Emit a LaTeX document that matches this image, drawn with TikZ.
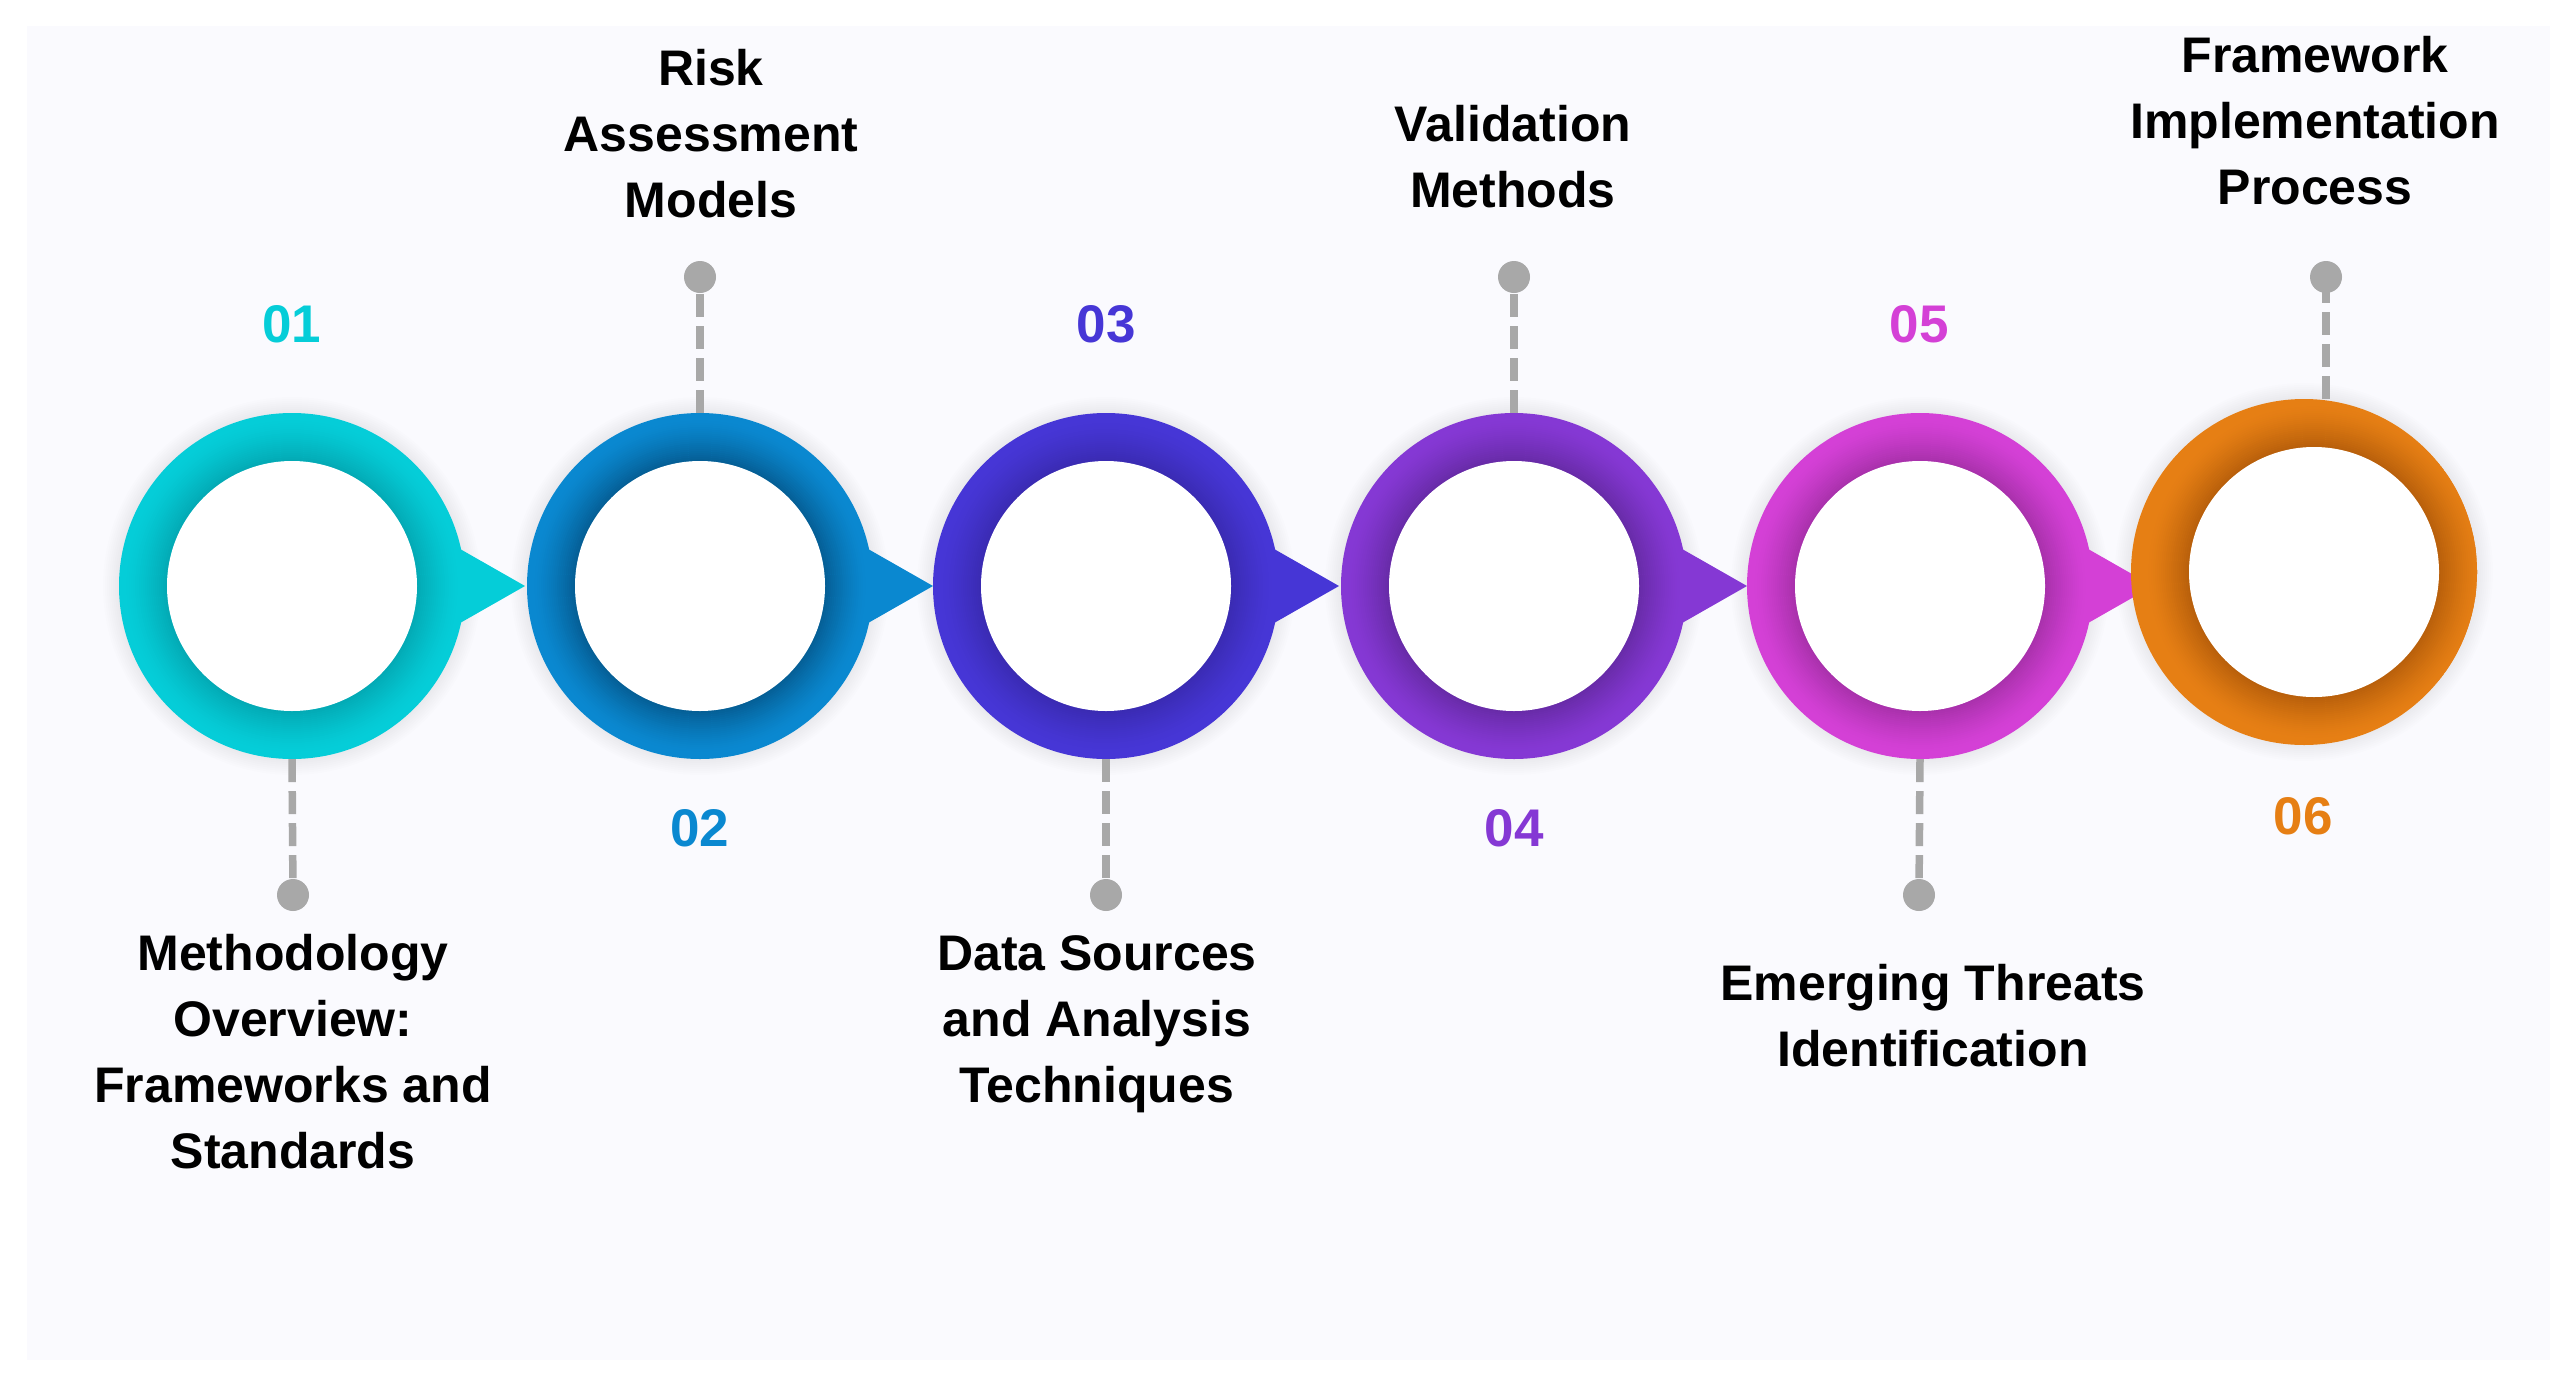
\documentclass[tikz,border=0pt]{standalone}
\usepackage{fontspec}
\setmainfont{Liberation Sans}
\definecolor{panel}{HTML}{FAFAFE}
\definecolor{stub}{HTML}{A8A8A8}
\definecolor{b1}{HTML}{05CDD8}\definecolor{rd1}{HTML}{03AAB5}
\definecolor{b2}{HTML}{0A88D0}\definecolor{rd2}{HTML}{055F96}
\definecolor{b3}{HTML}{4636D6}\definecolor{rd3}{HTML}{3A2BB3}
\definecolor{b4}{HTML}{8538D4}\definecolor{rd4}{HTML}{682BA8}
\definecolor{b5}{HTML}{D440D6}\definecolor{rd5}{HTML}{A931AC}
\definecolor{b6}{HTML}{E67F14}\definecolor{rd6}{HTML}{B9600B}
\begin{document}
\begin{tikzpicture}[x=1pt,y=-1pt,
  lbl/.style={font=\bfseries\fontsize{50}{66}\selectfont, anchor=base, inner sep=0pt},
  num/.style={font=\bfseries\fontsize{53}{56}\selectfont, inner sep=0pt},
  stubline/.style={draw=stub, line width=7.5pt, dash pattern=on 23pt off 9pt},
  dotn/.style={circle, fill=stub, minimum size=32pt, inner sep=0pt},
  ringn/.style={circle, minimum size=346pt, inner sep=0pt}]

\useasboundingbox (0,0) rectangle (2576,1376);
\fill[white] (0,0) rectangle (2576,1376);
\fill[panel] (27,26) rectangle (2550,1360);

% soft halos
\foreach \x/\y in {292/586,700/586,1106/586,1514/586,1920/586,2304/572}{
  \foreach \k in {1,...,8}{
    \fill[black,opacity=0.006] (\x,\y) circle[radius=173pt+\k*2pt];
  }
}

% rings
\foreach \n/\x/\y/\ix/\tri in {1/292/586/292/1, 2/700/586/700/1, 3/1106/586/1106/1, 4/1514/586/1514/1, 5/1920/586/1920/1, 6/2304/572/2314/0}{
  \node[ringn] (c\n) at (\x,\y) {};
  \ifnum\tri=1
    \fill[b\n] (\x+140,\y-53) -- (\x+233,\y) -- (\x+140,\y+53) -- cycle;
  \fi
  \fill[b\n] (\x,\y) circle[radius=173pt];
  \begin{scope}
    \clip (\x,\y) circle[radius=173pt];
    \foreach \k in {0,...,19}{
      \pgfmathtruncatemacro\p{100*pow(1-\k/20,1.3)}
      \draw[line width=2.4pt, color=rd\n!\p!b\n] (\ix,\y) circle[radius=126pt+\k*2pt];
    }
  \end{scope}
  \fill[white] (\ix,\y) circle[radius=125pt];
}

% dots and stubs
\node[dotn] (p1) at (293,895) {};
\node[dotn] (p2) at (700,277) {};
\node[dotn] (p3) at (1106,895) {};
\node[dotn] (p4) at (1514,277) {};
\node[dotn] (p5) at (1919,895) {};
\node[dotn] (p6) at (2326,277) {};
\draw[stubline] (c1.south) -- (p1.center);
\draw[stubline] (c2.north) -- (p2.center);
\draw[stubline] (c3.south) -- (p3.center);
\draw[stubline] (c4.north) -- (p4.center);
\draw[stubline] (c5.south) -- (p5.center);
\draw[stubline] (p6 |- c6.north) -- (p6.center);

% numbers
\node[num, text=b1] (n1) at (292,324) {01};
\node[num, text=b2] (n2) at (700,828) {02};
\node[num, text=b3] (n3) at (1106,324) {03};
\node[num, text=b4] (n4) at (1514,828) {04};
\node[num, text=b5] (n5) at (1919,324) {05};
\node[num, text=b6] (n6) at (2303,816) {06};

% labels
\node[lbl] (t1) at (293,970) {\begin{tabular}[t]{@{}c@{}}Methodology\\Overview:\\Frameworks and\\Standards\end{tabular}};
\node[lbl] (t2) at (711,85) {\begin{tabular}[t]{@{}c@{}}Risk\\Assessment\\Models\end{tabular}};
\node[lbl] (t3) at (1097,970) {\begin{tabular}[t]{@{}c@{}}Data Sources\\and Analysis\\Techniques\end{tabular}};
\node[lbl] (t4) at (1513,141) {\begin{tabular}[t]{@{}c@{}}Validation\\Methods\end{tabular}};
\node[lbl] (t5) at (1933,1000) {\begin{tabular}[t]{@{}c@{}}Emerging Threats\\Identification\end{tabular}};
\node[lbl] (t6) at (2315,72) {\begin{tabular}[t]{@{}c@{}}Framework\\Implementation\\Process\end{tabular}};
\end{tikzpicture}
\end{document}
